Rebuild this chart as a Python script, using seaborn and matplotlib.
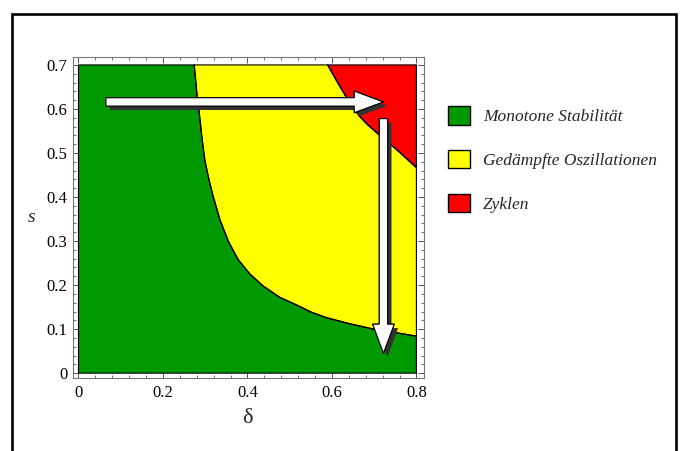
import matplotlib
matplotlib.use("Agg")
import matplotlib.pyplot as plt
import matplotlib.patheffects as pe
from matplotlib.patches import Patch, Rectangle
from matplotlib.ticker import MultipleLocator
import seaborn as sns

# Grenzkurven
# grün / gelb
low_delta = [0.274, 0.281, 0.286, 0.292, 0.299, 0.309, 0.319, 0.335, 0.355, 0.378,
             0.406, 0.437, 0.477, 0.516, 0.550, 0.587, 0.643, 0.694, 0.745, 0.800]
low_s = [0.700, 0.628, 0.590, 0.537, 0.484, 0.439, 0.401, 0.348, 0.299, 0.258,
         0.225, 0.198, 0.172, 0.155, 0.139, 0.126, 0.112, 0.101, 0.093, 0.084]
# gelb / rot
high_delta = [0.590, 0.610, 0.631, 0.648, 0.666, 0.685, 0.705, 0.730, 0.760, 0.800]
high_s = [0.700, 0.666, 0.632, 0.606, 0.583, 0.564, 0.547, 0.527, 0.502, 0.467]

delta_max = 0.8
s_max = 0.7

labels = ["Monotone Stabilität", "Gedämpfte Oszillationen", "Zyklen"]
colors = ["#009900", "#ffff00", "#ff0000"]

# Pfeile (Start, Spitze)
arrow_h = ((0.065, 0.616), (0.722, 0.616))
arrow_v = ((0.722, 0.578), (0.722, 0.045))

sns.set_style("ticks")
plt.rcParams["font.family"] = ["Liberation Serif", "DejaVu Serif"]

fig = plt.figure(figsize=(6.8, 4.51), dpi=100)
ax = fig.add_axes([73 / 680, 1 - 378 / 451, 351 / 680, 321 / 451])

# Flächen
green = ([0, delta_max, delta_max] + low_delta[::-1] + [0],
         [0, 0, low_s[-1]] + low_s[::-1] + [s_max])
yellow = (low_delta + [delta_max] + high_delta[::-1],
          low_s + [high_s[-1]] + high_s[::-1])
red = (high_delta + [delta_max], high_s + [s_max])

for (px, py), c in zip([green, yellow, red], colors):
    ax.fill(px, py, facecolor=c, edgecolor="black", lw=0.8, zorder=1)

sns.lineplot(x=low_delta, y=low_s, sort=False, color="black", lw=0.9, ax=ax, zorder=2)
sns.lineplot(x=high_delta, y=high_s, sort=False, color="black", lw=0.9, ax=ax, zorder=2)

# Pfeile mit Schatten
for (start, tip) in [arrow_h, arrow_v]:
    ax.annotate("", xy=tip, xytext=start,
                arrowprops=dict(
                    arrowstyle="simple,head_length=2.1,head_width=1.55,tail_width=0.6",
                    mutation_scale=10, fc="white", ec="black", lw=0.8,
                    shrinkA=0, shrinkB=0,
                    path_effects=[pe.withSimplePatchShadow(offset=(2.8, -2.8),
                                                          shadow_rgbFace="#333333",
                                                          alpha=1),
                                  pe.Normal()]),
                zorder=3)

ax.set_xlim(-0.013, 0.818)
ax.set_ylim(-0.011, 0.718)
ax.xaxis.set_major_locator(MultipleLocator(0.2))
ax.xaxis.set_minor_locator(MultipleLocator(0.04))
ax.yaxis.set_major_locator(MultipleLocator(0.1))
ax.yaxis.set_minor_locator(MultipleLocator(0.02))
fmt = plt.FuncFormatter(lambda v, p: "0" if abs(v) < 1e-9 else f"{v:.1f}")
ax.xaxis.set_major_formatter(fmt)
ax.yaxis.set_major_formatter(fmt)
ax.tick_params(which="both", direction="in", top=True, right=True,
               color="#555555", labelsize=12, labelcolor="black")
ax.tick_params(which="major", length=4, width=0.7)
ax.tick_params(which="minor", length=2, width=0.6)
ax.tick_params(axis="x", pad=5)
ax.tick_params(axis="y", pad=4)
for sp in ax.spines.values():
    sp.set_color("#777777")
    sp.set_linewidth(0.8)

ax.set_xlabel("δ", fontsize=16, va="center")
ax.set_ylabel("s", fontsize=14, style="italic", rotation=0, va="center")
ax.xaxis.set_label_coords(0.496, -0.125)
ax.yaxis.set_label_coords(-0.117, 0.5)

handles = [Patch(facecolor=c, edgecolor="black", lw=1.0) for c in colors]
fig.legend(handles, labels, loc="upper left", bbox_to_anchor=(448 / 680, 1 - 106 / 451),
           frameon=False, borderpad=0, borderaxespad=0,
           handlelength=1.27, handleheight=1.27, handletextpad=0.75,
           labelspacing=1.42, prop=dict(family="Liberation Serif", style="italic", size=12.5))

# äußerer Rahmen
fig.add_artist(Rectangle((12.2 / 680, -0.05), (675.7 - 12.2) / 680, 1.05 - 13.8 / 451,
                         transform=fig.transFigure, fill=False, ec="black", lw=1.9,
                         clip_on=False))

fig.savefig("out.png", dpi=100)
